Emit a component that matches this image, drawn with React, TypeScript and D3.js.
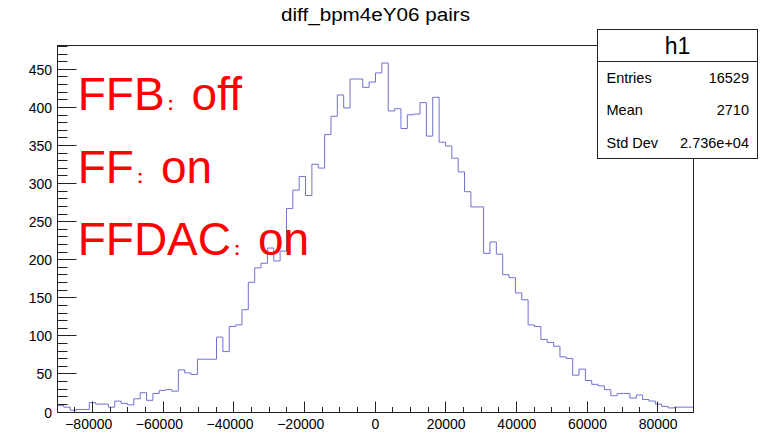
import React, { useEffect } from 'react';
import * as d3 from 'd3';

const chartTitle = 'diff_bpm4eY06 pairs';
const xMin = -90000;
const xMax = 90000;
const yMax = 482;

// 100 bins, -90000 .. 90000
const binCounts = [
  9, 7, 3, 4, 4, 13, 11, 11, 7, 15, 12, 10, 18, 26, 16, 25, 29, 30, 28, 56, 52, 50,
  70, 70, 70, 99, 80, 113, 115, 135, 171, 190, 196, 216, 199, 212, 268, 292, 310, 285,
  326, 321, 365, 389, 417, 400, 438, 438, 427, 434, 446,
  459, 396, 399, 373, 391, 392, 407, 363, 414, 355, 350, 334, 316, 290, 270, 270,
  209, 224, 208, 181, 177, 157, 148, 115, 113, 96, 92, 87, 73, 71, 49, 57,
  42, 37, 35, 30, 22, 25, 25, 19, 23, 17, 15, 11, 8, 6, 7, 7, 7,
];

const xTickValues = [-80000, -60000, -40000, -20000, 0, 20000, 40000, 60000, 80000];
const xTickLabels = ['\u221280000', '\u221260000', '\u221240000', '\u221220000', '0', '20000', '40000', '60000', '80000'];
const yTickValues = [0, 50, 100, 150, 200, 250, 300, 350, 400, 450];
const yTickLabels = ['0', '50', '100', '150', '200', '250', '300', '350', '400', '450'];

const statsName = 'h1';
const statsLabels = ['Entries', 'Mean', 'Std Dev'];
const statsValues = ['16529', '2710', '2.736e+04'];

const noteKeys = ['FFB', 'FF', 'FFDAC'];
const noteStates = ['off', 'on', 'on'];

const W = 764;
const H = 435;
const FONT = '"Liberation Sans", Arial, Helvetica, sans-serif';

export default function App() {
  useEffect(() => {
    document.body.style.margin = '0';
  }, []);

  const left = 57.5, right = 693.5, top = 45.5, bottom = 412.5;
  const x = d3.scaleLinear().domain([xMin, xMax]).range([left, right]);
  const y = d3.scaleLinear().domain([0, yMax]).range([bottom, top]);

  const nb = binCounts.length;
  const bw = (xMax - xMin) / nb;
  const pts: [number, number][] = binCounts.map((c, i) => [xMin + i * bw, c]);
  pts.push([xMax, binCounts[nb - 1]]);
  const line = d3
    .line<[number, number]>()
    .x((d) => x(d[0]))
    .y((d) => y(d[1]))
    .curve(d3.curveStepAfter);

  const yMinor = d3.range(0, yMax + 0.001, 10);
  const xMinor = d3.range(xMin, xMax + 0.001, 5000);

  const labelFs = 14;
  const digitW = 0.556 * labelFs;

  const sbL = 597.5, sbR = 757.5, sbT = 29.5, sbMid = 61.5, sbB = 158.5;
  const rowY = d3.scaleBand<number>().domain([0, 1, 2]).range([sbMid, sbB]);

  const noteFs = 46;
  const noteX = 77.7;
  const noteBase = [110, 182.5, 255];
  const keyWidth = (s: string) => {
    const w: Record<string, number> = { F: 0.611, B: 0.667, D: 0.722, A: 0.667, C: 0.722 };
    return s.split('').reduce((a, ch) => a + (w[ch] || 0.6), 0) * noteFs;
  };

  return (
    <svg
      width={W}
      height={H}
      viewBox={`0 0 ${W} ${H}`}
      style={{ position: 'absolute', left: 0, top: 0, background: '#fff', fontFamily: FONT }}
    >
      <rect x={0} y={0} width={W} height={H} fill="#ffffff" />
      <text x={375.5} y={21} textAnchor="middle" fontSize={18} textLength={189} lengthAdjust="spacingAndGlyphs" fill="#000">
        {chartTitle}
      </text>

      {/* histogram */}
      <path d={line(pts) || ''} fill="none" stroke="#7070d4" strokeWidth={1} />

      {/* frame */}
      <rect x={left} y={top} width={right - left} height={bottom - top} fill="none" stroke="#222" strokeWidth={1} />

      {/* y ticks */}
      {yMinor.map((v) => {
        const major = Math.abs(v % 50) < 1e-6;
        const py = Math.round(y(v)) + 0.5 - 1;
        return <line key={'ym' + v} x1={left} x2={left + (major ? 19 : 10)} y1={py} y2={py} stroke="#222" strokeWidth={1} />;
      })}
      {yTickValues.map((v, i) => (
        <text key={'yl' + v} x={52} y={y(v)} dy="0.36em" textAnchor="end" fontSize={labelFs} fill="#000">
          {yTickLabels[i]}
        </text>
      ))}

      {/* x ticks */}
      {xMinor.map((v) => {
        const major = Math.abs(v % 20000) < 1e-6;
        const px = Math.round(x(v)) + 0.5 - 1;
        return <line key={'xm' + v} x1={px} x2={px} y1={bottom} y2={bottom - (major ? 11 : 5.5)} stroke="#222" strokeWidth={1} />;
      })}
      {xTickValues.map((v, i) => {
        const lab = xTickLabels[i];
        const digits = lab.replace('\u2212', '');
        return (
          <text key={'xl' + v} x={x(v) + (digits.length * digitW) / 2} y={428.5} textAnchor="end" fontSize={labelFs} fill="#000">
            {lab}
          </text>
        );
      })}

      {/* annotations */}
      {noteKeys.map((k, i) => {
        const kw = keyWidth(k);
        return (
          <g key={'n' + i} fill="#ff0000" fontSize={noteFs}>
            <text x={noteX} y={noteBase[i]}>{k}</text>
            <text x={noteX + kw + 3} y={noteBase[i]} fontSize={19} fontWeight="bold">:</text>
            <text x={noteX + kw + 27} y={noteBase[i]}>{noteStates[i]}</text>
          </g>
        );
      })}

      {/* stats box */}
      <rect x={sbL} y={sbT} width={sbR - sbL} height={sbB - sbT} fill="#fff" stroke="#222" strokeWidth={1} />
      <line x1={sbL} x2={sbR} y1={sbMid} y2={sbMid} stroke="#222" strokeWidth={1} />
      <text x={(sbL + sbR) / 2} y={54} textAnchor="middle" fontSize={23} fill="#000">
        {statsName}
      </text>
      {statsLabels.map((s, i) => (
        <g key={'s' + i} fontSize={14.5} fill="#000">
          <text x={sbL + 9} y={(rowY(i) || 0) + rowY.bandwidth() / 2} dy="0.36em">{s}</text>
          <text x={749} y={(rowY(i) || 0) + rowY.bandwidth() / 2} dy="0.36em" textAnchor="end">{statsValues[i]}</text>
        </g>
      ))}
    </svg>
  );
}
